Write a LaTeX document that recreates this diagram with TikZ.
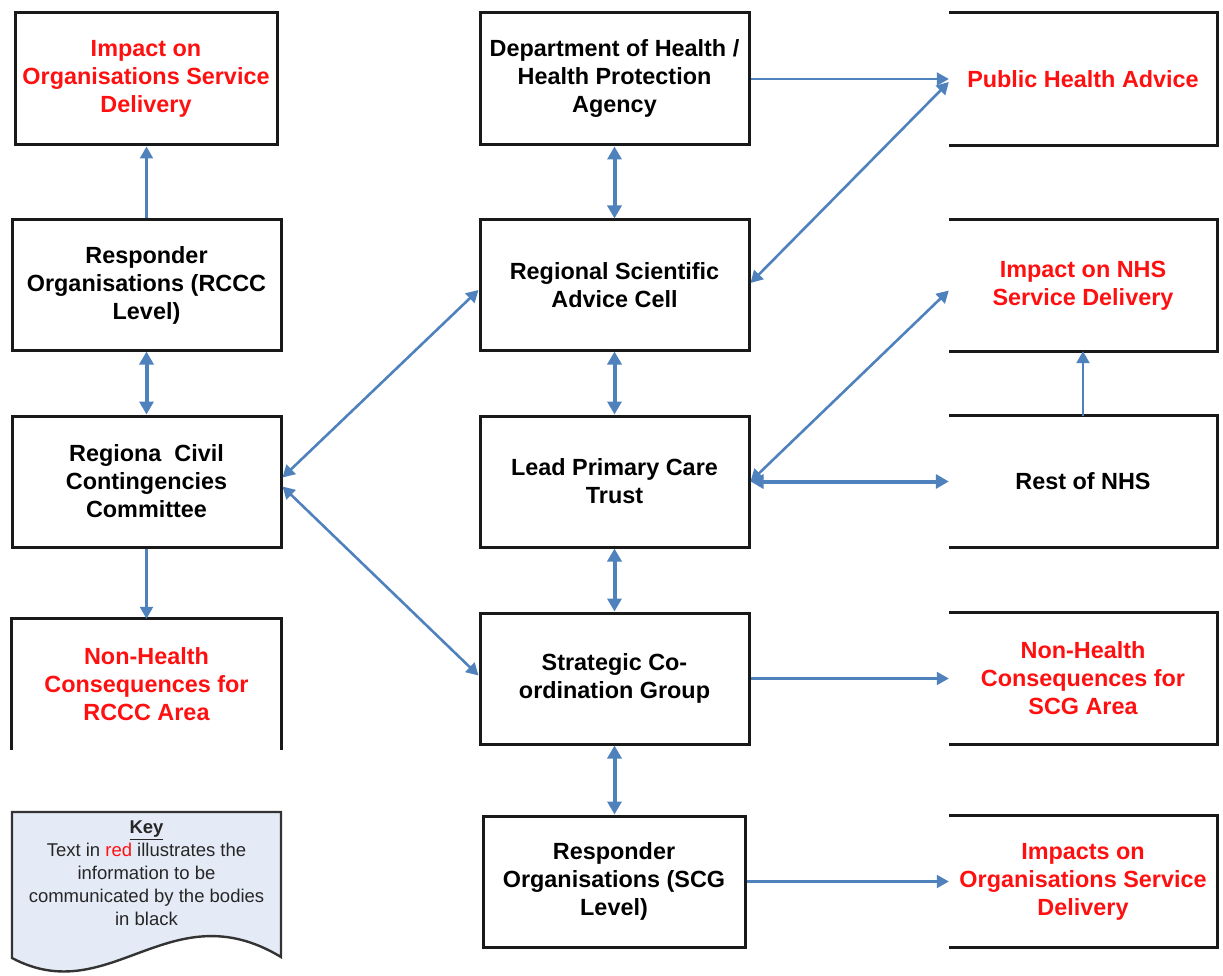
\documentclass[tikz,border=0pt]{standalone}
\usepackage{fontspec}
\setmainfont{Liberation Sans}
\usetikzlibrary{arrows.meta}
\definecolor{lnk}{HTML}{4F81BD}
\definecolor{keyfill}{HTML}{E5EBF6}
\definecolor{redtxt}{HTML}{FF1010}
\begin{document}
\begin{tikzpicture}[x=1pt,y=-1pt,
  boxtext/.style={align=center, inner sep=0pt, font=\fontsize{23.4}{28}\selectfont\bfseries},
  box/.style={boxtext, draw=black!90, line width=3pt},
  openbox/.style={boxtext, draw=none},
  info/.style={text=redtxt},
  edge/.style={draw=black!90, line width=3pt},
  tip/.tip={Triangle[length=13pt,width=14pt]},
  smalltip/.tip={Triangle[length=12pt,width=13pt]},
  dbl/.style={draw=lnk, line width=4pt, tip-tip},
  diag/.style={draw=lnk, line width=2.6pt, smalltip-smalltip},
  one/.style={draw=lnk, line width=2.2pt, -smalltip},
  keytext/.style={align=center, inner sep=0pt, font=\fontsize{18.5}{22.8}\selectfont, text=black!85},
  keyshape/.style={draw=black!80, fill=keyfill, line width=2.4pt}
]
\useasboundingbox (0,0) rectangle (1223,976);

% left column
\node[box, info, minimum width=262pt, minimum height=132pt] (impL) at (146,79) {Impact on\\Organisations Service\\Delivery};
\node[box, minimum width=269pt, minimum height=130pt] (respL) at (146.5,285) {Responder\\Organisations (RCCC\\Level)};
\node[box, minimum width=269pt, minimum height=131pt] (rccc) at (146.5,481.5) {Regiona\ \ Civil\\Contingencies\\Committee};
\node[openbox, info, minimum width=269pt, minimum height=131pt] (nhL) at (146.5,684.5) {Non-Health\\Consequences for\\RCCC Area};
\draw[edge] (nhL.south west) -- (nhL.north west) -- (nhL.north east) -- (nhL.south east);

% key
\draw[keyshape] (12,812) -- (281,812) -- (281,957) .. controls (170,890) and (110,1010) .. (12,958) -- cycle;
\node[keytext, anchor=north] (key) at (146.5,821) {\underline{\textbf{Key}}\\Text in \textcolor{redtxt}{red} illustrates the\\information to be\\communicated by the bodies\\in black};

% middle column
\node[box, minimum width=269pt, minimum height=132pt] (doh) at (614.5,79) {Department of Health /\\Health Protection\\Agency};
\node[box, minimum width=269pt, minimum height=130pt] (rsac) at (614.5,285) {Regional Scientific\\Advice Cell};
\node[box, minimum width=269pt, minimum height=131pt] (lpct) at (614.5,481.5) {Lead Primary Care\\Trust};
\node[box, minimum width=269pt, minimum height=131pt] (scg) at (614.5,678.5) {Strategic Co-\\ordination Group};
\node[box, minimum width=262pt, minimum height=131pt] (respS) at (614,881.5) {Responder\\Organisations (SCG\\Level)};

% right column
\node[openbox, info, minimum width=268pt, minimum height=132pt] (pha) at (1083,79) {Public Health Advice};
\node[openbox, info, minimum width=268pt, minimum height=131pt] (impN) at (1083,285.5) {Impact on NHS\\Service Delivery};
\node[openbox, minimum width=268pt, minimum height=131pt] (rest) at (1083,481.5) {Rest of NHS};
\node[openbox, info, minimum width=268pt, minimum height=131pt] (nhS) at (1083,678.5) {Non-Health\\Consequences for\\SCG Area};
\node[openbox, info, minimum width=268pt, minimum height=131pt] (impS) at (1083,881.5) {Impacts on\\Organisations Service\\Delivery};
\foreach \n in {pha,impN,rest,nhS,impS}
  \draw[edge] (\n.north west) -- (\n.north east) -- (\n.south east) -- (\n.south west);

% connectors, left column
\draw[one] (respL.north) -- (respL.north |- impL.south);
\draw[dbl] (rccc.north) -- (respL.south);
\draw[one] (rccc.south) -- (nhL.north);

% connectors, middle column
\draw[dbl] (doh.south) -- (rsac.north);
\draw[dbl] (rsac.south) -- (lpct.north);
\draw[dbl] (lpct.south) -- (scg.north);
\draw[dbl] (scg.south) -- (scg.south |- respS.north);

% diagonals
\draw[diag] ([yshift=4pt]rccc.east) -- ([yshift=-5pt]rsac.west);
\draw[diag] ([yshift=-5pt]rccc.east) -- ([yshift=3pt]scg.west);
\draw[diag] ([yshift=2pt]rsac.east) -- ([yshift=-3pt]pha.west);
\draw[diag] (lpct.east) -- ([yshift=-5pt]impN.west);

% right links
\draw[one] (doh.east) -- (pha.west);
\draw[dbl] (lpct.east) -- (rest.west);
\draw[one] (rest.north) -- (impN.south);
\draw[one] (scg.east) -- (nhS.west);
\draw[one] (respS.east) -- (respS.east -| impS.west);
\end{tikzpicture}
\end{document}
